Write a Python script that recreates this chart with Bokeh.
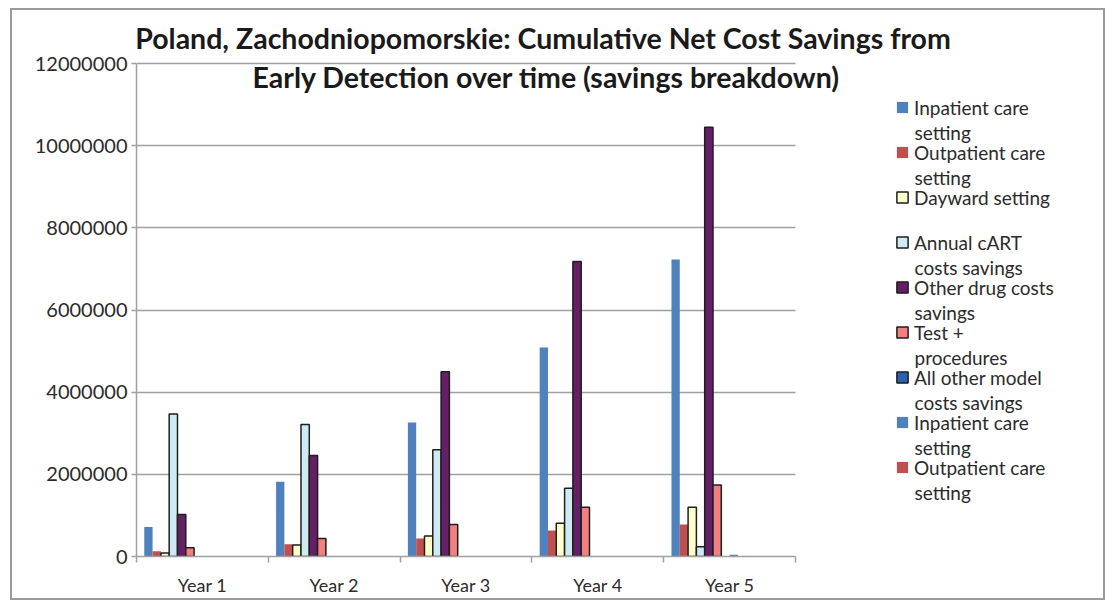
from bokeh.plotting import figure
from bokeh.models import (Range1d, FixedTicker, SingleIntervalTicker, BasicTickFormatter,
                          ColumnDataSource, Legend, LegendItem, Label)
from bokeh.transform import dodge
from bokeh.embed import file_html
from bokeh.resources import INLINE

# ---------------- data ----------------
years = ["Year 1", "Year 2", "Year 3", "Year 4", "Year 5"]

series_names = [
    "Inpatient care\nsetting",
    "Outpatient care\nsetting",
    "Dayward setting",
    "Annual cART\ncosts savings",
    "Other drug costs\nsavings",
    "Test +\nprocedures",
    "All other model\ncosts savings",
    "Inpatient care\nsetting",
    "Outpatient care\nsetting",
    "Dayward setting",
    "Annual cART\ncosts savings",
    "Other drug costs\nsavings",
    "Test +\nprocedures",
    "All other model\ncosts savings",
]

inpatient = [720000, 1820000, 3260000, 5090000, 7230000]
outpatient = [130000, 300000, 440000, 630000, 780000]
dayward = [85000, 280000, 500000, 810000, 1200000]
annual_cart = [3470000, 3210000, 2600000, 1660000, 240000]
other_drug = [1020000, 2460000, 4500000, 7180000, 10450000]
test_proc = [210000, 440000, 780000, 1200000, 1740000]
all_other = [0, 0, 0, 0, 0]
inpatient_2 = [0, 0, 0, 0, 40000]
outpatient_2 = [0, 0, 0, 0, 0]
dayward_2 = [0, 0, 0, 0, 0]
annual_cart_2 = [0, 0, 0, 0, 0]
other_drug_2 = [0, 0, 0, 0, 0]
test_proc_2 = [0, 0, 0, 0, 0]
all_other_2 = [0, 0, 0, 0, 0]

series_values = [inpatient, outpatient, dayward, annual_cart, other_drug, test_proc, all_other,
                 inpatient_2, outpatient_2, dayward_2, annual_cart_2, other_drug_2, test_proc_2,
                 all_other_2]
legend_count = 9

y_ticks_interval = 2000000
y_max = 12000000

# ---------------- styles ----------------
fills = ["#4f81bd", "#c0504d", "#ffffcc", "#cfeaf3", "#651f66", "#f38080", "#2a62b0",
         "#4f81bd", "#c0504d", "#ffffcc", "#cfeaf3", "#651f66", "#f38080", "#2a62b0"]
lines = [None, None, "#1e1e1e", "#1e1e1e", "#1e1e1e", "#1e1e1e", "#1e1e1e",
         None, None, "#1e1e1e", "#1e1e1e", "#1e1e1e", "#1e1e1e", "#1e1e1e"]

FONT = "Lato"
GRID = "#a0a0a0"
TXT = "#2b2b2b"

# page geometry (pixels)
ORG_X, ORG_Y = 12, 10           # canvas origin on the page (margin + border)
PLOT_L, PLOT_R = 136, 795       # plot area (categories) left/right
PLOT_T, PLOT_B = 63, 556        # y of 12000000 and of 0
CANVAS_R, CANVAS_B = 1103, 595

ML = PLOT_L - ORG_X
MB = CANVAS_B - PLOT_B
FW = CANVAS_R - PLOT_L
FH = PLOT_B - ORG_Y

def fx(px):
    return px - PLOT_L

def fy(py):
    return PLOT_B - py

ncat = len(years)
centers = [k + 0.5 for k in range(ncat)]
x_end = ncat * FW / (PLOT_R - PLOT_L)
y_end = y_max * FH / (PLOT_B - PLOT_T)

p = figure(x_range=Range1d(0, x_end), y_range=Range1d(0, y_end),
           frame_width=FW, frame_height=FH,
           min_border_left=ML, min_border_right=0, min_border_top=0, min_border_bottom=MB,
           output_backend="svg", toolbar_location=None,
           background_fill_color="white", border_fill_color="white")
p.styles = {"border": "2px solid #9b9b9b", "margin-left": "10px", "margin-top": "8px"}
p.outline_line_color = None
p.xgrid.visible = False
p.ygrid.grid_line_color = GRID
p.ygrid.grid_line_width = 1.5
p.ygrid.bounds = (0, y_max)
p.ygrid.cross_bounds = (0, ncat)

yax = p.yaxis[0]
yax.bounds = (0, y_max)
yax.ticker = SingleIntervalTicker(interval=y_ticks_interval, num_minor_ticks=0)
yax.formatter = BasicTickFormatter(use_scientific=False)
yax.axis_line_color = GRID
yax.axis_line_width = 1.5
yax.major_tick_line_color = GRID
yax.major_tick_line_width = 1.5
yax.major_tick_out = 5
yax.major_tick_in = 0
yax.minor_tick_line_color = None
yax.major_label_text_font = FONT
yax.major_label_text_font_size = "20px"
yax.major_label_text_color = TXT
yax.major_label_standoff = 4

xax = p.xaxis[0]
xax.bounds = (0, ncat)
xax.ticker = FixedTicker(ticks=centers, minor_ticks=list(range(ncat + 1)))
xax.major_label_overrides = {c: y for c, y in zip(centers, years)}
xax.major_tick_line_color = None
xax.minor_tick_line_color = GRID
xax.minor_tick_line_width = 1.5
xax.minor_tick_out = 6
xax.minor_tick_in = 0
xax.axis_line_color = GRID
xax.axis_line_width = 1.5
xax.major_label_text_font = FONT
xax.major_label_text_font_size = "18px"
xax.major_label_text_color = TXT
xax.major_label_standoff = 11

# ---------------- bars ----------------
n = len(series_values)
bar_w = 0.063
renderers = []
for i, vals in enumerate(series_values):
    # zero values are not drawn (NaN), as in the original chart
    vs = [v if v > 0 else float("nan") for v in vals]
    src = ColumnDataSource(dict(pos=centers, value=vs))
    r = p.vbar(x=dodge("pos", (i - (n - 1) / 2) * bar_w), top="value",
               width=bar_w, source=src, fill_color=fills[i],
               line_color=lines[i], line_width=1.5 if lines[i] else 0)
    renderers.append(r)

# ---------------- legend ----------------
glyph_box = 14                  # legend draws the swatch at 80% of this box
leg_text_x = 914
leg_x_page = 895
leg_first_center = 107
item_pitch = 45
line_pitch = 25
label_h = 24
LEG_FS = "19px"
items = [LegendItem(label=series_names[i].split("\n")[0], renderers=[renderers[i]])
         for i in range(legend_count)]
leg_top = leg_first_center - label_h / 2
leg_bottom = leg_top + legend_count * label_h + (legend_count - 1) * (item_pitch - label_h)
legend = Legend(items=items, location=(fx(leg_x_page), fy(leg_bottom)),
                padding=0, margin=0, spacing=item_pitch - label_h, label_height=label_h,
                glyph_height=glyph_box, glyph_width=glyph_box,
                label_standoff=leg_text_x - leg_x_page - glyph_box,
                border_line_alpha=0, background_fill_alpha=0,
                label_text_font=FONT, label_text_font_size=LEG_FS, label_text_color=TXT)
p.add_layout(legend)

for i in range(legend_count):
    parts = series_names[i].split("\n")
    if len(parts) > 1:
        p.add_layout(Label(x=fx(leg_text_x), y=fy(leg_first_center + i * item_pitch + line_pitch),
                           x_units="screen", y_units="screen", text=parts[1],
                           text_font=FONT, text_font_size=LEG_FS, text_color=TXT,
                           text_baseline="middle", text_align="left"))

# ---------------- title ----------------
title_lines = ["Poland, Zachodniopomorskie:  Cumulative Net Cost Savings from",
               "Early Detection over time (savings breakdown)"]
for k, t in enumerate(title_lines):
    p.add_layout(Label(x=fx(546), y=fy(37 + 39 * k), x_units="screen", y_units="screen",
                       text=t, text_font=FONT, text_font_size="28.5px", text_font_style="bold",
                       text_color="#1a1a1a", text_align="center", text_baseline="middle"))

open("out.html", "w").write(file_html(p, INLINE))
